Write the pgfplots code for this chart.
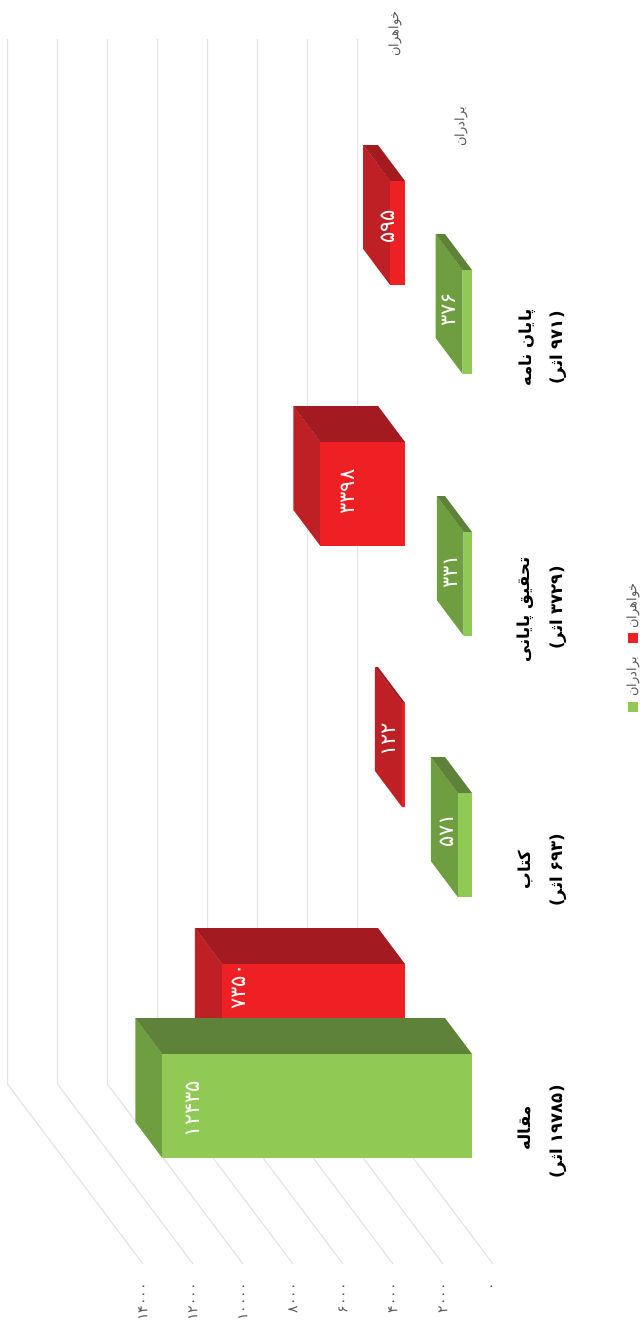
\documentclass[border=0pt]{standalone}
\usepackage{fontspec}
\usepackage{pgfplots}
\pgfplotsset{compat=1.18}
\TeXXeTstate=1
\newfontfamily\fa[Script=Arabic]{DejaVu Sans}
\setmainfont{DejaVu Sans}
\definecolor{gfront}{HTML}{90CA55}
\definecolor{gside}{HTML}{6F9E40}
\definecolor{gtop}{HTML}{5E8239}
\definecolor{rfront}{HTML}{EF2024}
\definecolor{rside}{HTML}{BF2025}
\definecolor{rtop}{HTML}{A31B20}
\definecolor{gridc}{HTML}{E4E4E4}
\definecolor{txt}{HTML}{595959}
\pgfplotsset{frame/.style={scale only axis,width=644pt,height=1325pt,ymin=0,ymax=1325,y dir=reverse,
  clip=false,axis line style={draw=none},tick style={draw=none},ytick=\empty,xtick=\empty,
  scaled x ticks=false,anchor=south west,at={(0,0)}}}
\newcommand{\ar}[1]{\fa\beginR #1\endR}
\begin{document}
\begin{tikzpicture}
% value grid on the floor: 0..14000
\begin{axis}[frame,x dir=reverse,xmin=-6040,xmax=19720,
  xtick={0,2000,4000,6000,8000,10000,12000,14000},
  xticklabels={۰,۲۰۰۰,۴۰۰۰,۶۰۰۰,۸۰۰۰,۱۰۰۰۰,۱۲۰۰۰,۱۴۰۰۰},
  xticklabel style={font=\fa\fontsize{14}{15}\selectfont,text=txt,rotate=90,anchor=east,inner sep=0pt,xshift=42pt}]
\addplot[gridc,line width=1.2pt] coordinates {(0,1264)(5420,1084)(5420,39)};
\addplot[gridc,line width=1.2pt] coordinates {(2000,1264)(7420,1084)(7420,39)};
\addplot[gridc,line width=1.2pt] coordinates {(4000,1264)(9420,1084)(9420,39)};
\addplot[gridc,line width=1.2pt] coordinates {(6000,1264)(11420,1084)(11420,39)};
\addplot[gridc,line width=1.2pt] coordinates {(8000,1264)(13420,1084)(13420,39)};
\addplot[gridc,line width=1.2pt] coordinates {(10000,1264)(15420,1084)(15420,39)};
\addplot[gridc,line width=1.2pt] coordinates {(12000,1264)(17420,1084)(17420,39)};
\addplot[gridc,line width=1.2pt] coordinates {(14000,1264)(19420,1084)(19420,39)};
\end{axis}
% sisters (red), value 0 at pixel 405
\begin{axis}[frame,x dir=reverse,xmin=-9598,xmax=16265]
\addplot[fill=rside,draw=none] coordinates {(7350,964)(8434,928)(8434,1032)(7350,1068)} -- cycle;
\addplot[fill=rtop,draw=none] coordinates {(0,964)(1084,928)(8434,928)(7350,964)} -- cycle;
\addplot[fill=rfront,draw=none] coordinates {(0,964)(7350,964)(7350,1068)(0,1068)} -- cycle;
\addplot[fill=rside,draw=none] coordinates {(122,703)(1206,667)(1206,771)(122,807)} -- cycle;
\addplot[fill=rtop,draw=none] coordinates {(0,703)(1084,667)(1206,667)(122,703)} -- cycle;
\addplot[fill=rfront,draw=none] coordinates {(0,703)(122,703)(122,807)(0,807)} -- cycle;
\addplot[fill=rside,draw=none] coordinates {(3398,442)(4482,406)(4482,510)(3398,546)} -- cycle;
\addplot[fill=rtop,draw=none] coordinates {(0,442)(1084,406)(4482,406)(3398,442)} -- cycle;
\addplot[fill=rfront,draw=none] coordinates {(0,442)(3398,442)(3398,546)(0,546)} -- cycle;
\addplot[fill=rside,draw=none] coordinates {(595,181)(1679,145)(1679,249)(595,285)} -- cycle;
\addplot[fill=rtop,draw=none] coordinates {(0,181)(1084,145)(1679,145)(595,181)} -- cycle;
\addplot[fill=rfront,draw=none] coordinates {(0,181)(595,181)(595,285)(0,285)} -- cycle;
\end{axis}
% brothers (green), value 0 at pixel 472
\begin{axis}[frame,x dir=reverse,xmin=-6908,xmax=18956]
\addplot[fill=gside,draw=none] coordinates {(12435,1054)(13519,1018)(13519,1122)(12435,1158)} -- cycle;
\addplot[fill=gtop,draw=none] coordinates {(0,1054)(1084,1018)(13519,1018)(12435,1054)} -- cycle;
\addplot[fill=gfront,draw=none] coordinates {(0,1054)(12435,1054)(12435,1158)(0,1158)} -- cycle;
\addplot[fill=gside,draw=none] coordinates {(571,793)(1655,757)(1655,861)(571,897)} -- cycle;
\addplot[fill=gtop,draw=none] coordinates {(0,793)(1084,757)(1655,757)(571,793)} -- cycle;
\addplot[fill=gfront,draw=none] coordinates {(0,793)(571,793)(571,897)(0,897)} -- cycle;
\addplot[fill=gside,draw=none] coordinates {(331,532)(1415,496)(1415,600)(331,636)} -- cycle;
\addplot[fill=gtop,draw=none] coordinates {(0,532)(1084,496)(1415,496)(331,532)} -- cycle;
\addplot[fill=gfront,draw=none] coordinates {(0,532)(331,532)(331,636)(0,636)} -- cycle;
\addplot[fill=gside,draw=none] coordinates {(376,270)(1460,234)(1460,338)(376,374)} -- cycle;
\addplot[fill=gtop,draw=none] coordinates {(0,270)(1084,234)(1460,234)(376,270)} -- cycle;
\addplot[fill=gfront,draw=none] coordinates {(0,270)(376,270)(376,374)(0,374)} -- cycle;
\end{axis}
% annotations in pixel coordinates
\begin{axis}[frame,xmin=0,xmax=644]
\addplot[only marks,mark=square*,mark size=4.5pt,color=gfront] coordinates {(633,707)};
\addplot[only marks,mark=square*,mark size=4.5pt,color=rfront] coordinates {(633,638)};
\tikzset{val/.style={rotate=90,text=white,inner sep=0pt,font=\fa\fontsize{21}{22}\selectfont},
  cat/.style={rotate=90,text=black,inner sep=0pt,font=\fa\bfseries\fontsize{16.5}{18}\selectfont},
  ser/.style={rotate=90,text=txt,inner sep=0pt,font=\fa\fontsize{13}{14}\selectfont}}
\node[val] at (axis cs:193,1109) {۱۲۴۳۵};
\node[val] at (axis cs:239,987) {۷۳۵۰};
\node[val] at (axis cs:447,831) {۵۷۱};
\node[val] at (axis cs:389,740) {۱۲۲};
\node[val] at (axis cs:451,572) {۳۳۱};
\node[val] at (axis cs:348,492) {۳۳۹۸};
\node[val] at (axis cs:449,310) {۳۷۶};
\node[val] at (axis cs:388,227) {۵۹۵};
\node[cat] at (axis cs:524,1128) {\ar{مقاله}};
\node[cat] at (axis cs:558,1132) {\ar{(\beginL ۱۹۷۸۵\endL{} اثر)}};
\node[cat] at (axis cs:525,870) {\ar{کتاب}};
\node[cat] at (axis cs:558,870) {\ar{(\beginL ۶۹۳\endL{} اثر)}};
\node[cat] at (axis cs:525,610) {\ar{تحقیق پایانی}};
\node[cat] at (axis cs:558,608) {\ar{(\beginL ۳۷۲۹\endL{} اثر)}};
\node[cat] at (axis cs:527,348) {\ar{پایان نامه}};
\node[cat] at (axis cs:558,348) {\ar{(\beginL ۹۷۱\endL{} اثر)}};
\node[ser] at (axis cs:395,34) {\ar{خواهران}};
\node[ser] at (axis cs:461,127) {\ar{برادران}};
\node[ser] at (axis cs:633,606) {\ar{خواهران}};
\node[ser] at (axis cs:633,677) {\ar{برادران}};
\end{axis}
\pgfresetboundingbox
\path[use as bounding box] (0,0) rectangle (644pt,1325pt);
\end{tikzpicture}
\end{document}
